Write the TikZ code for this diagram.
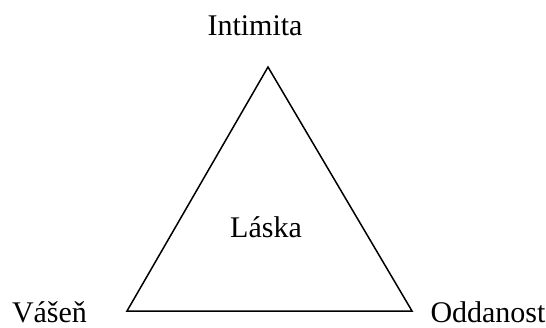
\documentclass[tikz,border=0pt]{standalone}
\usepackage{fontspec}
\setmainfont{Liberation Serif}
\usepackage{tikz}
\usetikzlibrary{arrows.meta}

\tikzset{lbl/.style={anchor=base, inner sep=0pt, font=\fontsize{15}{18}\selectfont}}

\begin{document}
\begin{tikzpicture}[x=0.5pt, y=-0.5pt]
  			\useasboundingbox (0,0) rectangle (546,327);
  			\coordinate (top) at (268,67);
  			\coordinate (left) at (127,311);
  			\coordinate (right) at (412,311);
  			\draw[line width=0.75pt, line join=miter] (top) -- (left) -- (right) -- cycle;
  			
  			\node[lbl] (intimita) at (255,35) {Intimita};
  			\node[lbl] (laska) at (266,237) {Láska};
  			\node[lbl] (vasen) at (49.5,322) {Vášeň};
  			\node[lbl] (oddanost) at (488,322) {Oddanost};
  		\end{tikzpicture}
\end{document}
